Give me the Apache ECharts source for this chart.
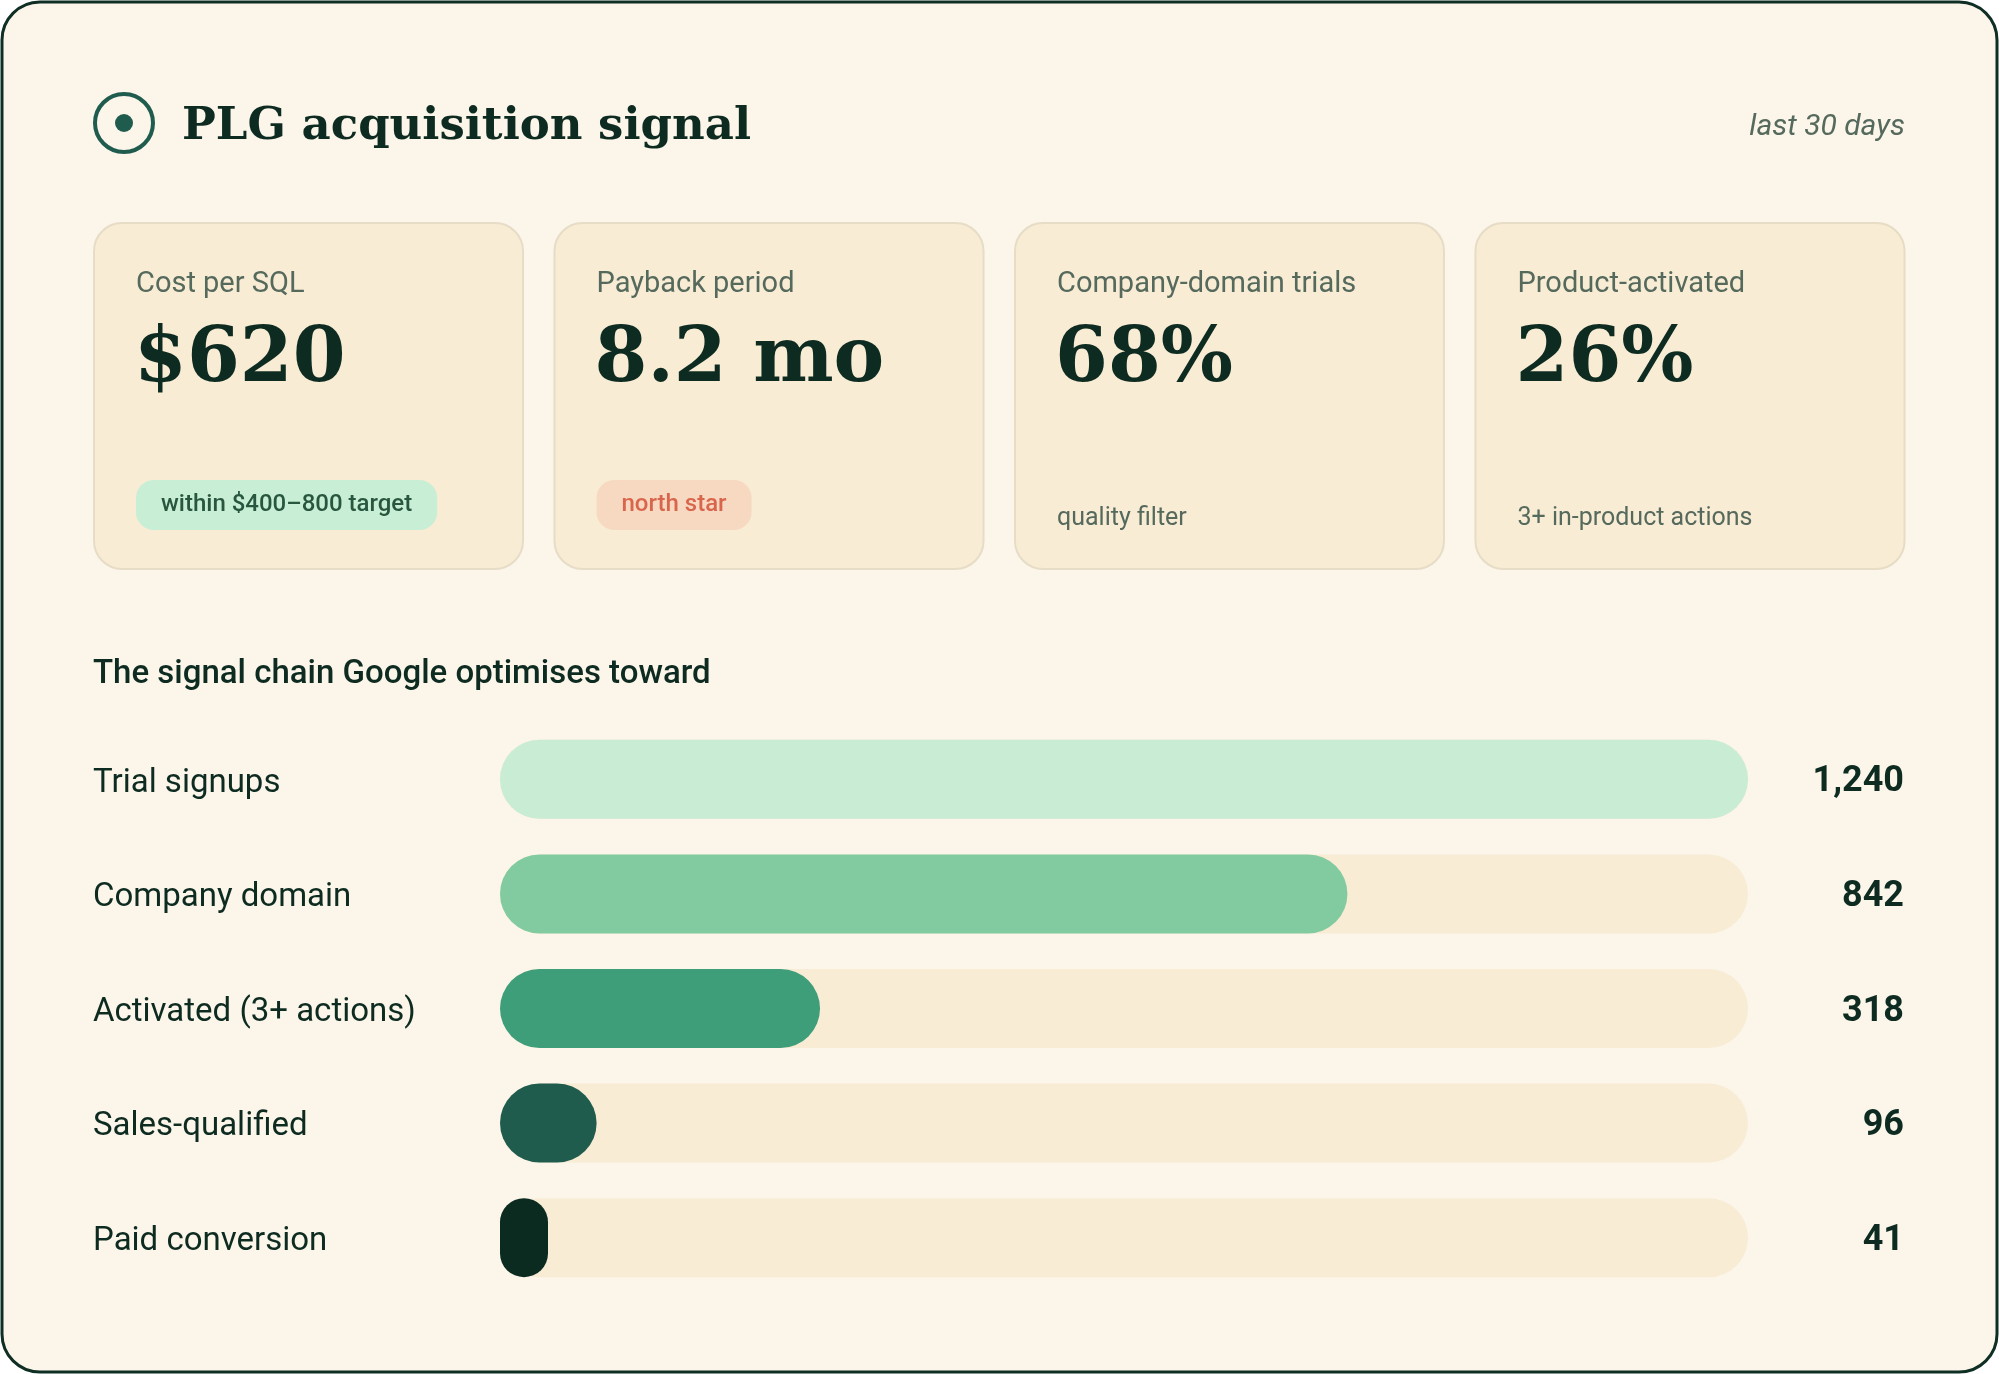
<!DOCTYPE html>
<html>
<head>
<meta charset="utf-8">
<title>PLG acquisition signal</title>
<script src="https://cdn.jsdelivr.net/npm/echarts@6/dist/echarts.min.js"></script>
<style>
    html, body { margin: 0; padding: 0; background: #ffffff; }
    #chart { width: 1999px; height: 1374px; }
</style>
</head>
<body>
<div id="chart"></div>
<script>
// --- data ---
const titleText = 'PLG acquisition signal';
const periodText = 'last 30 days';
const cardLabels = ['Cost per SQL', 'Payback period', 'Company-domain trials', 'Product-activated'];
const cardValues = ['$620', '8.2 mo', '68%', '26%'];
const cardNotes = ['within $400\u2013800 target', 'north star', 'quality filter', '3+ in-product actions'];
const cardNoteKinds = ['good', 'star', 'plain', 'plain'];
const sectionTitle = 'The signal chain Google optimises toward';
const stages = ['Trial signups', 'Company domain', 'Activated (3+ actions)', 'Sales-qualified', 'Paid conversion'];
const stageValues = [1240, 842, 318, 96, 41];

// --- styles ---
const INK = '#0d2b20';
const MUTED = '#55695c';
const CREAM = '#fcf5ea';
const CARD = '#f8ecd4';
const STAGE_COLORS = ['#c8edd4', '#82cba0', '#3f9e7a', '#1f5c4e', '#0b2a20'];
const SERIF = '"DejaVu Serif", serif';
const SANS = 'Roboto, "Noto Sans", sans-serif';

const chart = echarts.init(document.getElementById('chart'), null, { renderer: 'canvas' });

const graphics = [
    {
        type: 'rect', z: 0, silent: true,
        shape: { x: 2, y: 2, width: 1995, height: 1370, r: 38 },
        style: { fill: CREAM, stroke: '#0f2e24', lineWidth: 3 },
    },
    // header icon
    {
        type: 'circle', z: 2, silent: true,
        shape: { cx: 124, cy: 123, r: 29 },
        style: { fill: 'none', stroke: '#1f5c4e', lineWidth: 4 },
    },
    {
        type: 'circle', z: 2, silent: true,
        shape: { cx: 124, cy: 123, r: 9 },
        style: { fill: '#1f5c4e' },
    },
    {
        type: 'text', z: 2, silent: true,
        style: { x: 182, y: 127, text: titleText, font: `bold 45px ${SERIF}`, fill: INK, textVerticalAlign: 'middle' },
    },
    {
        type: 'text', z: 2, silent: true,
        style: { x: 1905, y: 127, text: periodText, font: `italic 30px ${SANS}`, fill: MUTED, textAlign: 'right', textVerticalAlign: 'middle' },
    },
    {
        type: 'text', z: 2, silent: true,
        style: { x: 93, y: 675, text: sectionTitle, font: `500 33px ${SANS}`, fill: INK, textVerticalAlign: 'middle' },
    },
];

// KPI cards
const cardLeft = 94, cardStep = 460.5, cardW = 429;
cardLabels.forEach((label, i) => {
    const x = cardLeft + i * cardStep;
    graphics.push({
        type: 'rect', z: 1, silent: true,
        shape: { x: x, y: 223, width: cardW, height: 346, r: 28 },
        style: { fill: CARD, stroke: '#e7dcc6', lineWidth: 2 },
    });
    graphics.push({
        type: 'text', z: 2, silent: true,
        style: { x: x + 42, y: 285, text: label, font: `29px ${SANS}`, fill: MUTED, textVerticalAlign: 'middle' },
    });
    graphics.push({
        type: 'text', z: 2, silent: true,
        style: { x: x + 40, y: 361, text: cardValues[i], font: `bold 76px ${SERIF}`, fill: INK, textVerticalAlign: 'middle' },
    });
    const kind = cardNoteKinds[i];
    if (kind === 'plain') {
        graphics.push({
            type: 'text', z: 2, silent: true,
            style: { x: x + 42, y: 519, text: cardNotes[i], font: `25px ${SANS}`, fill: MUTED, textVerticalAlign: 'middle' },
        });
    } else {
        graphics.push({
            type: 'text', z: 2, silent: true,
            style: {
                x: x + 42, y: 505, text: cardNotes[i],
                font: `500 24px ${SANS}`, lineHeight: 24,
                fill: kind === 'good' ? '#28563f' : '#d9664c',
                backgroundColor: kind === 'good' ? '#c8eed5' : '#f7d9c2',
                padding: [13, 25], borderRadius: 18,
                textVerticalAlign: 'middle',
            },
        });
    }
});

chart.setOption({
    backgroundColor: 'transparent',
    animation: false,
    graphic: { elements: graphics },
    grid: { left: 500, right: 251, top: 722, bottom: 79, containLabel: false },
    xAxis: {
        type: 'value', min: 0, max: Math.max(...stageValues),
        show: false,
    },
    yAxis: [
        {
            type: 'category', data: stages, inverse: true, position: 'left',
            axisLine: { show: false }, axisTick: { show: false }, splitLine: { show: false },
            axisLabel: { align: 'left', verticalAlign: 'top', lineHeight: 8, margin: 407, color: INK, fontSize: 33, fontFamily: SANS },
        },
        {
            type: 'category', data: stageValues.map(v => v.toLocaleString('en-US')), inverse: true, position: 'right',
            axisLine: { show: false }, axisTick: { show: false }, splitLine: { show: false },
            axisLabel: { align: 'right', verticalAlign: 'top', lineHeight: 6, margin: 156, color: INK, fontSize: 36, fontWeight: 'bold', fontFamily: SANS },
        },
    ],
    series: [
        {
            type: 'bar',
            yAxisIndex: 0,
            data: stageValues.map((v, i) => ({ value: v, itemStyle: { color: STAGE_COLORS[i] } })),
            barWidth: 79,
            barMinHeight: 48,
            showBackground: true,
            backgroundStyle: { color: CARD, borderRadius: 40 },
            itemStyle: { borderRadius: 40 },
            silent: true,
        },
    ],
});
</script>
</body>
</html>
